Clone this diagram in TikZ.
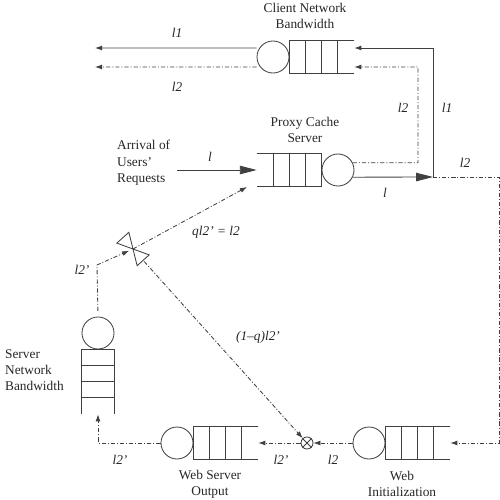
\documentclass[tikz,border=0pt]{standalone}
\usepackage{fontspec}
\setmainfont{Liberation Serif}
\usetikzlibrary{arrows.meta,positioning}

\begin{document}
\begin{tikzpicture}[x=0.025cm,y=-0.025cm,line width=0.6pt,draw=black!75,
  every node/.style={font=\fontsize{9.5}{11.6}\selectfont,text=black!85},
  srv/.style={draw,circle,minimum size=0.8cm,inner sep=0pt},
  buf/.style={minimum width=1.6cm,minimum height=0.8cm,inner sep=0pt},
  lbl/.style={font=\fontsize{9.5}{11.6}\selectfont\itshape},
  dd/.style={dash pattern=on 3pt off 1.4pt on 0.7pt off 1.4pt},
  big/.style={-{Triangle[length=12pt,width=6pt]}},
  small/.style={-{Latex[length=5pt,width=3.5pt]}}]
  \useasboundingbox (0,0) rectangle (500,500);
  % client network bandwidth
  \node[srv] (cnb) at (273,57) {};
  \node[buf,anchor=west] (cnbq) at (cnb.east) {};
  \draw (cnbq.north east) -- (cnbq.north west) -- (cnbq.south west) -- (cnbq.south east);
  \foreach \i in {1,2,3}
    \draw ([xshift=\i*0.4cm]cnbq.north west) -- ([xshift=\i*0.4cm]cnbq.south west);
  \node[align=center] (cnbt) at (305,16) {Client Network\\Bandwidth};
  % proxy cache server
  \node[srv] (prx) at (338,170) {};
  \node[buf,anchor=east] (prxq) at (prx.west) {};
  \draw (prxq.north west) -- (prxq.north east) -- (prxq.south east) -- (prxq.south west);
  \foreach \i in {1,2,3}
    \draw ([xshift=-\i*0.4cm]prxq.north east) -- ([xshift=-\i*0.4cm]prxq.south east);
  \node[align=center] (prxt) at (305,130) {Proxy Cache\\Server};
  % web initialization
  \node[srv] (wi) at (369,443) {};
  \node[buf,anchor=west] (wiq) at (wi.east) {};
  \draw (wiq.north east) -- (wiq.north west) -- (wiq.south west) -- (wiq.south east);
  \foreach \i in {1,2,3}
    \draw ([xshift=\i*0.4cm]wiq.north west) -- ([xshift=\i*0.4cm]wiq.south west);
  \node[align=center] (wit) at (402,484) {Web\\Initialization};
  % web server output
  \node[srv] (ws) at (177,443) {};
  \node[buf,anchor=west] (wsq) at (ws.east) {};
  \draw (wsq.north east) -- (wsq.north west) -- (wsq.south west) -- (wsq.south east);
  \foreach \i in {1,2,3}
    \draw ([xshift=\i*0.4cm]wsq.north west) -- ([xshift=\i*0.4cm]wsq.south west);
  \node[align=center] (wst) at (210,484) {Web Server\\Output};
  % server network bandwidth
  \node[srv] (sn) at (98,333) {};
  \node[buf,minimum width=0.8cm,minimum height=1.6cm,anchor=north] (snq) at (sn.south) {};
  \draw (snq.south west) -- (snq.north west) -- (snq.north east) -- (snq.south east);
  \foreach \i in {1,2,3}
    \draw ([yshift=-\i*0.4cm]snq.north west) -- ([yshift=-\i*0.4cm]snq.north east);
  \node[align=left,anchor=west] (snt) at (0,370) {Server\\Network\\Bandwidth};
  % merge and split
  \node[draw,circle,minimum size=0.3cm,inner sep=0pt] (mrg) at (307,443) {};
  \draw (mrg.45) -- (mrg.225) (mrg.135) -- (mrg.315);
  \coordinate (sw) at (133,249);
  \draw ([shift={(160:0.43cm)}]sw) -- (sw) -- ([shift={(104:0.43cm)}]sw) -- cycle;
  \draw ([shift={(-20:0.43cm)}]sw) -- (sw) -- ([shift={(-76:0.43cm)}]sw) -- cycle;
  % flows
  \node[align=left,anchor=west] (arr) at (112,163) {Arrival of\\Users'\\Requests};
  \coordinate (arrs) at (177,170);
  \coordinate (sp) at (433,177);
  \coordinate (tc2) at (418,67);
  \coordinate (out1) at (95,48);
  \coordinate (out2) at (95,67);
  \coordinate (cor) at (97,265);
  \coordinate (pin) at (247,187);
  \draw[big] (arrs) -- (prxq.west);
  \draw[big] (prx.-26) -- (sp);
  \draw[small] (sp) |- ([yshift=0.225cm]cnbq.east);
  \draw[dd,small] (prx.26) -| (tc2) -- ([yshift=-0.25cm]cnbq.east);
  \draw[small] ([yshift=0.225cm]cnb.west) -- (out1);
  \draw[dd,small] ([yshift=-0.25cm]cnb.west) -- (out2);
  \draw[dd,small] (sp) -| ([xshift=1.225cm]wiq.east) -- (wiq.east);
  \draw[dd,small] (wi.west) -- (mrg.east);
  \draw[dd,small] (mrg.west) -- (wsq.east);
  \draw[dd,small] (ws.west) -| (snq.south);
  \draw[dd,small,shorten <=4pt,shorten >=3pt] (sn.north) -- (cor) -- (sw);
  \draw[dd,small] (sw) -- (pin);
  \draw[dd,small,shorten <=0.42cm] (sw) -- (mrg);
  % labels
  \node[lbl] (la) at (210,157) {l};
  \node[lbl] (lb) at (385,193) {l};
  \node[lbl] (lc) at (177,33) {l1};
  \node[lbl] (ld) at (177,87) {l2};
  \node[lbl] (le) at (403,108) {l2};
  \node[lbl] (lf) at (447,108) {l1};
  \node[lbl] (lg) at (465,163) {l2};
  \node[lbl] (lh) at (333,460) {l2};
  \node[lbl] (li) at (281,460) {l2'};
  \node[lbl] (lj) at (120,460) {l2'};
  \node[lbl] (lk) at (82,270) {l2'};
  \node[lbl] (ll) at (216,232) {ql2' = l2};
  \node[lbl] (lm) at (258,337) {(1--q)l2'};
\end{tikzpicture}
\end{document}
